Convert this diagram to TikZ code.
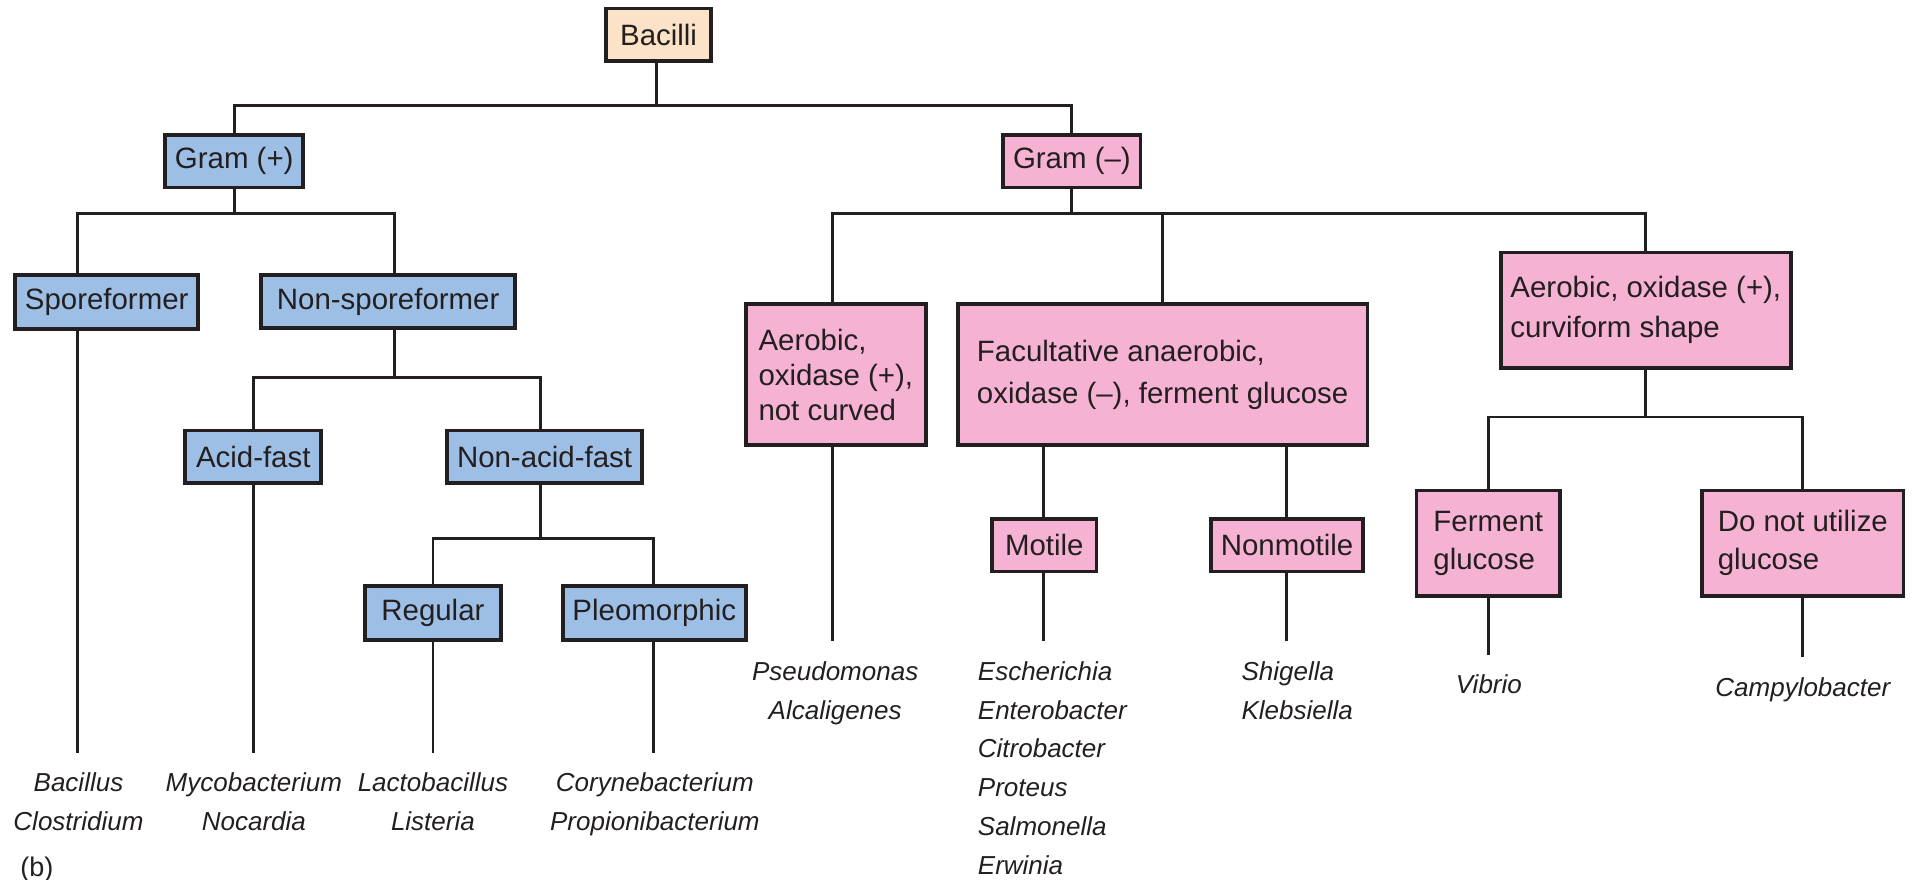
\documentclass[tikz,border=0pt]{standalone}
\usepackage{fontspec}
\setmainfont{Liberation Sans}
\definecolor{bluefill}{HTML}{9DBFE5}
\definecolor{pinkfill}{HTML}{F5B2D3}
\definecolor{peachfill}{HTML}{FCE3C8}
\definecolor{linec}{HTML}{231F20}
\definecolor{textc}{HTML}{231F20}
\newcommand{\boxfont}{\fontsize{12pt}{14pt}\selectfont}
\newcommand{\leaffont}{\fontsize{10.6pt}{15.8pt}\selectfont\itshape}
\tikzset{
  box/.style={draw=linec, line width=1.5pt, inner xsep=4pt, inner ysep=0pt, text=textc, font=\boxfont},
  gpbox/.style={box, fill=bluefill},
  gnbox/.style={box, fill=pinkfill},
  rootbox/.style={box, fill=peachfill},
  multibox/.style={align=left},
  leaf/.style={font=\leaffont, align=center, inner xsep=0pt, inner ysep=8pt, anchor=north, text=textc},
  leafl/.style={font=\leaffont, align=left, inner xsep=0pt, inner ysep=8pt, anchor=north west, text=textc},
  conn/.style={draw=linec, line width=1.15pt}
}
\begin{document}
\begin{tikzpicture}[x=0.5pt, y=-0.5pt]
\useasboundingbox (0,0) rectangle (1568,717);

% boxes
\node[rootbox, minimum width=43pt, minimum height=21.5pt] (bacilli) at (537,28.5) {Bacilli};
\node[gpbox, minimum width=55pt, minimum height=21.5pt] (gramp) at (191,131.5) {Gram (+)};
\node[gnbox, minimum width=56pt, minimum height=21.5pt] (gramm) at (874,131.5) {Gram (–)};

\node[gpbox, minimum width=74pt, minimum height=22pt] (spore) at (87,246) {Sporeformer};
\node[gpbox, minimum width=103.5pt, minimum height=21.5pt] (nonspore) at (316.5,246) {Non-sporeformer};
\node[gpbox, minimum width=55.5pt, minimum height=21.5pt] (acid) at (206.5,372.5) {Acid-fast};
\node[gpbox, minimum width=79pt, minimum height=21.5pt] (nonacid) at (444,372.5) {Non-acid-fast};
\node[gpbox, minimum width=55.5pt, minimum height=22pt] (regular) at (353,500) {Regular};
\node[gpbox, minimum width=74.5pt, minimum height=22pt] (pleo) at (533.5,500) {Pleomorphic};

\node[gnbox, multibox, minimum width=73.5pt, minimum height=57.5pt, font=\fontsize{12pt}{14.3pt}\selectfont] (aerob) at (681.5,305.5) {Aerobic,\\oxidase (+),\\not curved};
\node[gnbox, multibox, minimum width=167pt, minimum height=57.5pt, font=\fontsize{12pt}{17pt}\selectfont] (facult) at (948,305.5) {Facultative anaerobic,\\oxidase (–), ferment glucose};
\node[gnbox, multibox, minimum width=117pt, minimum height=47pt, font=\fontsize{12pt}{16.3pt}\selectfont] (curvi) at (1342,253) {Aerobic, oxidase (+),\\curviform shape};
\node[gnbox, minimum width=42.5pt, minimum height=21.5pt] (motile) at (851.5,444.5) {Motile};
\node[gnbox, minimum width=61.5pt, minimum height=21.5pt] (nonmot) at (1049.5,444.5) {Nonmotile};
\node[gnbox, multibox, minimum width=58.5pt, minimum height=43pt, font=\fontsize{12pt}{15.5pt}\selectfont] (ferm) at (1213.5,443) {Ferment\\glucose};
\node[gnbox, multibox, minimum width=82pt, minimum height=43pt, font=\fontsize{12pt}{15.5pt}\selectfont] (donot) at (1470,443) {Do not utilize\\glucose};

% leaves
\node[leaf] (bacillus) at (64,614) {Bacillus\\Clostridium};
\node[leaf] (myco) at (207,614) {Mycobacterium\\Nocardia};
\node[leaf] (lacto) at (353,614) {Lactobacillus\\Listeria};
\node[leaf] (coryne) at (534,614) {Corynebacterium\\Propionibacterium};
\node[leaf] (pseudo) at (681,523) {Pseudomonas\\Alcaligenes};
\node[leafl] (esch) at (797,523) {Escherichia\\Enterobacter\\Citrobacter\\Proteus\\Salmonella\\Erwinia};
\node[leafl] (shig) at (1012,523) {Shigella\\Klebsiella};
\node[leaf] (vibrio) at (1214,534) {Vibrio};
\node[leaf] (campy) at (1470,536) {Campylobacter};

\node[font=\fontsize{11pt}{13pt}\selectfont, text=textc] (blabel) at (30,709) {(b)};

% connectors: level 1
\coordinate (b0) at (535,86);
\draw[conn] (bacilli.south -| b0) -- (b0);
\draw[conn] (gramp.north) |- (b0) -| (gramm.north);

% gram positive
\coordinate (b1l) at (63,174);
\coordinate (b1r) at (322,174);
\draw[conn] (gramp.south) -- (gramp.south |- b1l);
\draw[conn] (spore.north -| b1l) -- (b1l) -- (b1r) -- (nonspore.north -| b1r);
\draw[conn] (spore.south -| b1l) -- (bacillus.north -| b1l);

\coordinate (b2l) at (207,308);
\coordinate (b2r) at (441,308);
\draw[conn] (nonspore.south -| b1r) -- (b1r |- b2l);
\draw[conn] (acid.north -| b2l) -- (b2l) -- (b2r) -- (nonacid.north -| b2r);
\draw[conn] (acid.south -| b2l) -- (myco.north -| b2l);

\coordinate (b3l) at (353,439);
\coordinate (b3r) at (533,439);
\draw[conn] (nonacid.south -| b2r) -- (b2r |- b3l);
\draw[conn] (regular.north -| b3l) -- (b3l) -- (b3r) -- (pleo.north -| b3r);
\draw[conn] (regular.south -| b3l) -- (lacto.north -| b3l);
\draw[conn] (pleo.south -| b3r) -- (coryne.north -| b3r);

% gram negative
\coordinate (b4l) at (679,174);
\coordinate (b4m) at (948,174);
\coordinate (b4r) at (1342,174);
\draw[conn] (gramm.south) -- (gramm.south |- b4l);
\draw[conn] (aerob.north -| b4l) -- (b4l) -- (b4r) -- (curvi.north -| b4r);
\draw[conn] (b4m) -- (facult.north -| b4m);
\draw[conn] (aerob.south -| b4l) -- (pseudo.north -| b4l);

\coordinate (c1) at (851,0);
\coordinate (c2) at (1049,0);
\draw[conn] (facult.south -| c1) -- (motile.north -| c1);
\draw[conn] (facult.south -| c2) -- (nonmot.north -| c2);
\draw[conn] (motile.south -| c1) -- (esch.north -| c1);
\draw[conn] (nonmot.south -| c2) -- (shig.north -| c2);

\coordinate (b5l) at (1214,340);
\coordinate (b5r) at (1470,340);
\draw[conn] (curvi.south) -- (curvi.south |- b5l);
\draw[conn] (ferm.north -| b5l) -- (b5l) -- (b5r) -- (donot.north -| b5r);
\draw[conn] (ferm.south -| b5l) -- (vibrio.north -| b5l);
\draw[conn] (donot.south -| b5r) -- (campy.north -| b5r);
\end{tikzpicture}
\end{document}
